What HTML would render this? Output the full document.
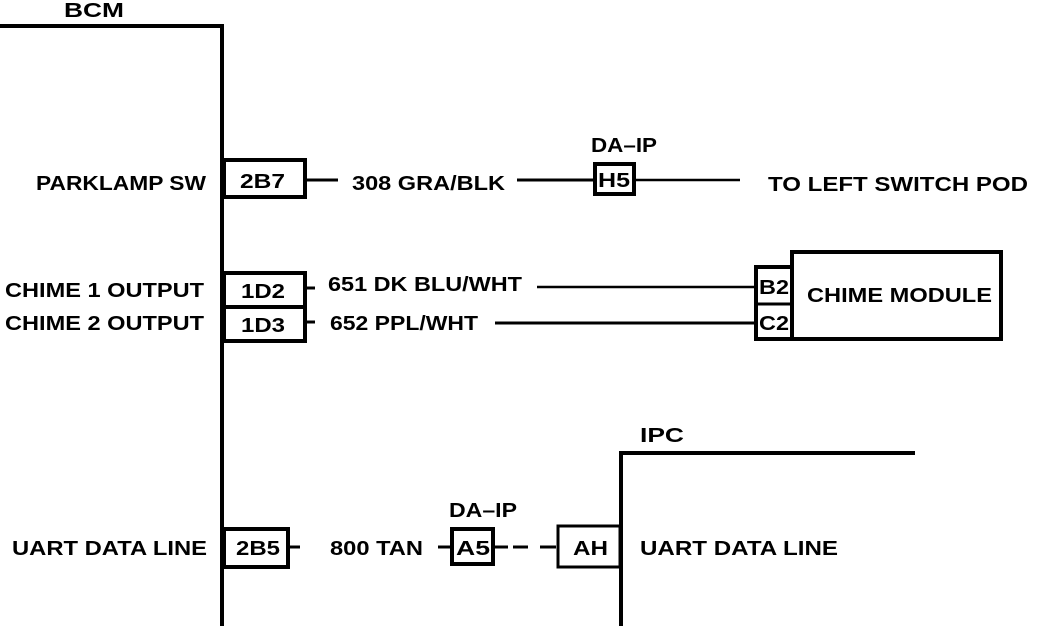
<!DOCTYPE html>
<html><head><style>
html,body{margin:0;padding:0;background:#fff;}
svg{display:block;}
text{font-family:"Liberation Sans",sans-serif;font-weight:bold;font-size:20px;fill:#000;}
</style></head><body>
<svg width="1056" height="626" viewBox="0 0 1056 626" xmlns="http://www.w3.org/2000/svg">
<g stroke="#000" fill="none">
<path d="M0 26 H222 V626" stroke-width="4"/>
<rect x="224" y="160" width="81" height="37" stroke-width="4" fill="#fff"/>
<line x1="305" y1="180" x2="338" y2="180" stroke-width="3"/>
<line x1="517" y1="180" x2="595" y2="180" stroke-width="3"/>
<rect x="595" y="164" width="39" height="30" stroke-width="4" fill="#fff"/>
<line x1="634" y1="180" x2="740" y2="180" stroke-width="2.5"/>
<rect x="224" y="273" width="81" height="68" stroke-width="4" fill="#fff"/>
<line x1="224" y1="307" x2="305" y2="307" stroke-width="4"/>
<line x1="305" y1="288" x2="315" y2="288" stroke-width="3"/>
<line x1="305" y1="322" x2="315" y2="322" stroke-width="3"/>
<line x1="537" y1="287" x2="757" y2="287" stroke-width="2.5"/>
<line x1="495" y1="323" x2="757" y2="323" stroke-width="3"/>
<rect x="756" y="267" width="36" height="72" stroke-width="4" fill="#fff"/>
<line x1="756" y1="304" x2="792" y2="304" stroke-width="3"/>
<rect x="792" y="252" width="209" height="87" stroke-width="4" fill="#fff"/>
<path d="M915 453 H621 V626" stroke-width="4"/>
<rect x="224" y="529" width="64" height="38" stroke-width="4" fill="#fff"/>
<line x1="288" y1="547" x2="300" y2="547" stroke-width="3"/>
<line x1="438" y1="547" x2="450" y2="547" stroke-width="3"/>
<rect x="452" y="529" width="41" height="35" stroke-width="4" fill="#fff"/>
<line x1="494" y1="547" x2="508" y2="547" stroke-width="3"/>
<line x1="513" y1="547" x2="528" y2="547" stroke-width="3"/>
<line x1="540" y1="547" x2="556" y2="547" stroke-width="3"/>
<rect x="558" y="526" width="62" height="41" stroke-width="3" fill="#fff"/>
</g>
<g lengthAdjust="spacingAndGlyphs">
<text x="64" y="17" textLength="60" lengthAdjust="spacingAndGlyphs">BCM</text>
<text x="36" y="190" textLength="170" lengthAdjust="spacingAndGlyphs">PARKLAMP SW</text>
<text x="240" y="188" textLength="45" lengthAdjust="spacingAndGlyphs">2B7</text>
<text x="352" y="190" textLength="153" lengthAdjust="spacingAndGlyphs">308 GRA/BLK</text>
<text x="591" y="152" textLength="66" lengthAdjust="spacingAndGlyphs">DA–IP</text>
<text x="598" y="187" textLength="32" lengthAdjust="spacingAndGlyphs">H5</text>
<text x="768" y="191" textLength="260" lengthAdjust="spacingAndGlyphs">TO LEFT SWITCH POD</text>
<text x="5" y="297" textLength="199" lengthAdjust="spacingAndGlyphs">CHIME 1 OUTPUT</text>
<text x="5" y="330" textLength="199" lengthAdjust="spacingAndGlyphs">CHIME 2 OUTPUT</text>
<text x="241" y="298" textLength="44" lengthAdjust="spacingAndGlyphs">1D2</text>
<text x="241" y="332" textLength="44" lengthAdjust="spacingAndGlyphs">1D3</text>
<text x="328" y="291" textLength="194" lengthAdjust="spacingAndGlyphs">651 DK BLU/WHT</text>
<text x="330" y="330" textLength="148" lengthAdjust="spacingAndGlyphs">652 PPL/WHT</text>
<text x="759" y="294" textLength="30" lengthAdjust="spacingAndGlyphs">B2</text>
<text x="759" y="330" textLength="30" lengthAdjust="spacingAndGlyphs">C2</text>
<text x="807" y="302" textLength="185" lengthAdjust="spacingAndGlyphs">CHIME MODULE</text>
<text x="640" y="442" textLength="44" lengthAdjust="spacingAndGlyphs">IPC</text>
<text x="12" y="555" textLength="195" lengthAdjust="spacingAndGlyphs">UART DATA LINE</text>
<text x="236" y="555" textLength="44" lengthAdjust="spacingAndGlyphs">2B5</text>
<text x="330" y="555" textLength="93" lengthAdjust="spacingAndGlyphs">800 TAN</text>
<text x="449" y="517" textLength="68" lengthAdjust="spacingAndGlyphs">DA–IP</text>
<text x="456" y="555" textLength="34" lengthAdjust="spacingAndGlyphs">A5</text>
<text x="573" y="555" textLength="35" lengthAdjust="spacingAndGlyphs">AH</text>
<text x="640" y="555" textLength="198" lengthAdjust="spacingAndGlyphs">UART DATA LINE</text>
</g>
</svg>
</body></html>
